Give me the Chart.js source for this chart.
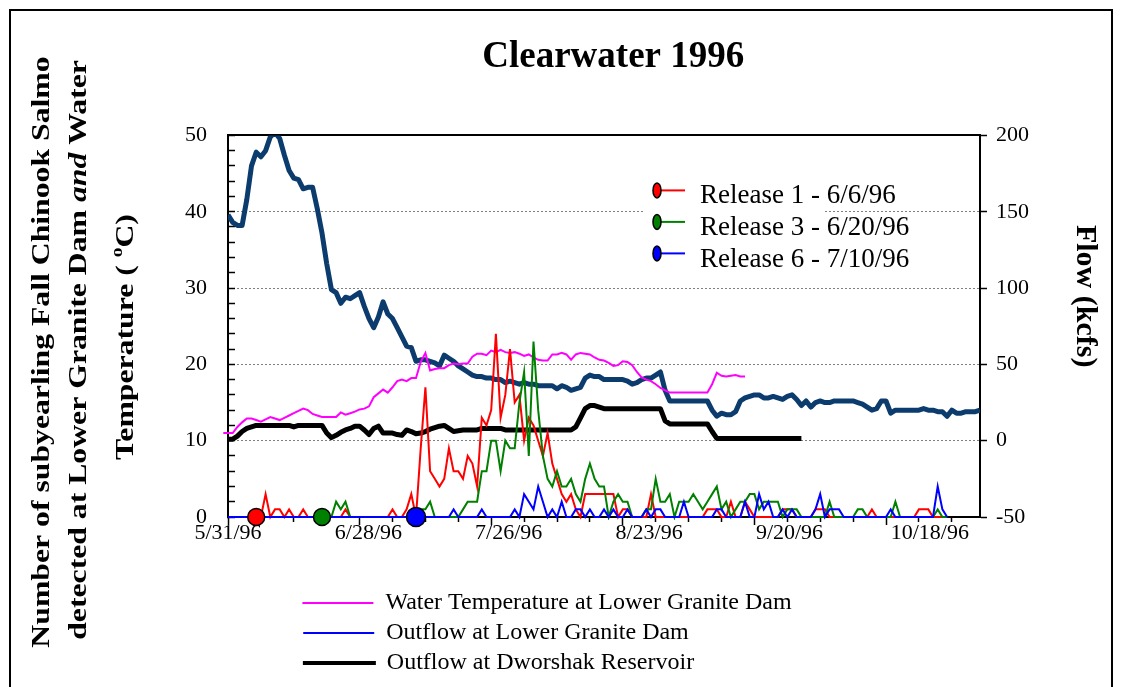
<!DOCTYPE html>
<html><head><meta charset="utf-8">
<script src="https://cdn.jsdelivr.net/npm/chart.js@4/dist/chart.umd.min.js"></script>
<style>html,body{margin:0;padding:0;background:#fff;}canvas{display:block;}</style>
</head><body>
<canvas id="c" width="1122" height="687"></canvas>
<script>
const FONT = '"Liberation Serif", "Times New Roman", serif';
const chartTitle = 'Clearwater 1996';
const xTickLabels = ['5/31/96', '6/28/96', '7/26/96', '8/23/96', '9/20/96', '10/18/96'];
const xTickLabelDays = [0, 29.87, 59.73, 89.6, 119.47, 149.33];
const xMajorTickDays = [0, 28, 56, 84, 112, 140];
const leftTitleLines = ['Number of subyearling Fall Chinook Salmo', 'detected at Lower Granite Dam ', 'and', ' Water', 'Temperature ( ', 'o', 'C)'];
const rightTitle = 'Flow (kcfs)';

const releaseNames = ['Release 1 - 6/6/96', 'Release 3 - 6/20/96', 'Release 6 - 7/10/96'];
const releaseDays = [6, 20, 40];
const releaseColors = ['#ff0000', '#008000', '#0000ff'];

// daily counts, day index 0 = 5/31/96
const release1 = [
  0,0,0,0,0,0,0,0,3,0, 1,1,0,1,0,0,1,0,0,0, 0,0,0,0,0,1,0,0,0,0, 0,0,0,0,0,1,0,0,1,3,
  0,9,17,6,5,4,5,9,6,6, 5,8,7,4,13,12,14,24,13,16, 22,15,16,10,13,12,10,8,11,7, 5,3,2,3,1,0,3,3,3,3,
  3,3,3,0,1,1,0,0,0,0, 3,0,0,0,0,0,0,0,0,0, 0,0,1,1,1,0,0,2,0,0, 2,1,0,0,0,0,0,0,1,1,
  1,0,0,0,0,1,1,1,0,0, 0,0,0,0,0,0,0,1,0,0, 0,0,0,0,0,0,0,1,1,1, 0,0,0,0
];
const release3 = [
  0,0,0,0,0,0,0,0,0,0, 0,0,0,0,0,0,0,0,0,0, 0,0,0,2,1,2,0,0,0,0, 0,0,0,0,0,0,0,0,0,0,
  1,1,1,2,0,0,0,0,0,0, 1,2,2,2,6,6,10,10,6,10, 9,9,15,19,8,23,14,8,5,4, 6,4,4,5,3,2,5,7,5,4,
  4,0,2,3,2,2,0,0,0,1, 1,5,2,2,3,0,2,2,2,3, 2,1,2,3,4,1,2,0,1,2, 2,3,3,1,2,2,2,2,0,1,
  1,1,0,0,0,0,0,0,2,0, 0,0,0,0,1,1,0,0,0,0, 0,0,2,0,0,0,0,0,0,0, 0,1,0,0
];
const release6 = [
  0,0,0,0,0,0,0,0,0,0, 0,0,0,0,0,0,0,0,0,0, 0,0,0,0,0,0,0,0,0,0, 0,0,0,0,0,0,0,0,0,0,
  0,0,0,0,0,0,0,0,1,0, 0,0,0,0,1,0,0,0,0,0, 0,1,0,3,2,1,4,2,0,1, 0,2,0,0,1,1,0,1,0,0,
  1,0,1,0,0,1,0,0,0,1, 0,1,1,0,0,0,0,2,0,0, 0,0,0,0,1,1,0,0,0,0, 2,0,0,3,1,2,0,0,1,0,
  1,0,0,0,0,1,3,0,1,1, 1,0,0,0,0,0,0,0,0,0, 0,1,0,0,0,0,0,0,0,0, 0,4,1,0
];

// water temperature (deg C), first value is day -2
const tempStartDay = -2;
const waterTemp = [
  12.0,11.0,11.0,11.0,11.8,12.4,12.9,12.9,12.7,12.5,
  12.8,13.1,12.9,12.7,13.0,13.3,13.6,13.9,14.2,14.0,
  13.5,13.3,13.1,13.1,13.1,13.1,13.7,13.4,13.6,13.8,
  14.1,14.2,14.5,15.7,16.2,16.7,16.3,17.0,17.8,18.0,
  17.8,18.2,18.2,20.3,21.5,19.2,19.4,19.5,19.5,19.9,
  20.1,20.0,20.1,20.1,21.0,21.4,21.4,21.2,21.8,21.6,
  21.9,21.6,21.5,21.6,21.4,21.1,21.3,20.9,20.6,20.5,
  20.5,21.3,21.3,21.5,21.3,20.6,21.3,21.5,21.4,21.3,
  20.9,20.6,20.5,20.2,19.8,19.9,20.4,20.3,19.9,19.0,
  18.3,18.0,17.8,17.4,16.9,16.6,16.3,16.3,16.3,16.3,
  16.3,16.3,16.3,16.3,16.3,17.4,18.9,18.5,18.4,18.5,
  18.6,18.4,18.4
];

// outflow at Lower Granite Dam (kcfs), day 0..160
const flowLowerGranite = [
  148,143,141,141,158,180,189,186,190,199, 202,198,187,177,172,171,165,166,166,152,
  136,116,99,97,90,94,93,95,97,88, 80,74,81,91,83,80,74,68,62,61,
  52,53,53,52,51,49,56,54,52,49, 47,45,43,42,42,41,41,40,40,38,
  39,38,37,38,37,37,36,36,36,36, 34,36,35,33,34,35,41,43,42,42,
  40,40,40,40,40,39,37,38,40,41, 41,43,45,33,26,26,26,26,26,26,
  26,26,26,20,16,18,17,17,19,26, 28,29,30,30,28,28,29,28,27,29,
  30,27,23,26,22,25,26,25,25,26, 26,26,26,26,25,24,22,20,21,26,
  26,18,20,20,20,20,20,20,21,20, 20,19,19,16,20,18,18,19,19,19,20
];

// outflow at Dworshak Reservoir (kcfs), day 0..122
const flowDworshak = [
  1,1,3,6,8,9,10,10,10,10, 10,10,10,10,9,10,10,10,10,10,
  10,5,2,3.5,5.5,7,8,9.5,9.5,7, 4,8,9.5,5,5,5,4,3.5,7,6,
  4.5,5,6,7.5,8.5,9.5,10,8,6,6.5, 7,7,7,7,8,8,8,8,8,7,
  7,7,7,7,7,7,7,7,7,7, 7,7,7,7,9,15,21,23,23,22,
  21,21,21,21,21,21,21,21,21,21, 21,21,21,13,11,11,11,11,11,11,
  11,11,11,6,1.5,1.5,1.5,1.5,1.5,1.5, 1.5,1.5,1.5,1.5,1.5,1.5,1.5,1.5,1.5,1.5, 1.5,1.5,1.5
];

const bottomLegendNames = ['Water Temperature at Lower Granite Dam', 'Outflow at Lower Granite Dam', 'Outflow at Dworshak Reservoir'];
const bottomLegendColors = ['#ff00ff', '#0000ff', '#000000'];
const bottomLegendStroke = [0, 0, 2];

const pts = (arr, start) => arr.map((v, k) => ({x: start + k, y: v}));

const decor = {
  id: 'decor',
  beforeDraw(chart) {
    const ctx = chart.ctx;
    ctx.save(); ctx.fillStyle = '#fff'; ctx.fillRect(0, 0, chart.width, chart.height); ctx.restore();
  },
  afterDatasetsDraw(chart) {
    const ctx = chart.ctx, a = chart.chartArea;
    ctx.save();
    ctx.fillStyle = '#fff';
    ctx.fillRect(a.left + 417, a.top + 41, 178, 96);
    releaseNames.forEach((name, k) => {
      const my = a.top + 55 + 31.5 * k;
      const mx = a.left + 429;
      ctx.strokeStyle = releaseColors[k]; ctx.lineWidth = 2;
      ctx.beginPath(); ctx.moveTo(mx, my); ctx.lineTo(a.left + 457, my); ctx.stroke();
      ctx.beginPath(); ctx.ellipse(mx, my, 4, 7.5, 0, 0, Math.PI * 2);
      ctx.fillStyle = releaseColors[k]; ctx.fill();
      ctx.strokeStyle = '#000'; ctx.lineWidth = 1.5; ctx.stroke();
      ctx.fillStyle = '#000';
      ctx.font = '27px ' + FONT;
      ctx.textBaseline = 'alphabetic'; ctx.textAlign = 'left';
      ctx.fillText(name, a.left + 472, a.top + 68 + 32 * k);
    });
    ctx.restore();
  },
  afterDraw(chart) {
    const ctx = chart.ctx;
    ctx.save();
    ctx.strokeStyle = '#000'; ctx.lineWidth = 2;
    ctx.strokeRect(10, 10, chart.width - 20, chart.height + 20);
    const B = 'bold 26px ' + FONT, BI = 'italic bold 26px ' + FONT, SUP = 'bold 16px ' + FONT;
    const line = (segs, cx, cy) => {
      ctx.save();
      ctx.translate(cx, cy); ctx.rotate(-Math.PI / 2); ctx.scale(1.22, 1);
      let total = 0;
      segs.forEach(s => { ctx.font = s.f; s.w = ctx.measureText(s.t).width; total += s.w; });
      let x = -total / 2;
      ctx.fillStyle = '#000'; ctx.textAlign = 'left'; ctx.textBaseline = 'alphabetic';
      segs.forEach(s => { ctx.font = s.f; ctx.fillText(s.t, x, s.dy || 0); x += s.w; });
      ctx.restore();
    };
    line([{t: leftTitleLines[0], f: B}], 49, 352);
    line([{t: leftTitleLines[1], f: B}, {t: leftTitleLines[2], f: BI}, {t: leftTitleLines[3], f: B}], 86, 350);
    line([{t: leftTitleLines[4], f: B}, {t: leftTitleLines[5], f: SUP, dy: -11}, {t: leftTitleLines[6], f: B}], 133, 337);
    ctx.restore();
  }
};

const tickFont = {size: 22, family: FONT};
const labelTickValues = xTickLabelDays.concat(xMajorTickDays.filter(v => !xTickLabelDays.includes(v))).sort((p, q) => p - q);

new Chart(document.getElementById('c'), {
  type: 'line',
  data: {
    datasets: [
      ...releaseDays.map((d, k) => ({
        label: releaseNames[k] + ' marker', data: [{x: d, y: 0}], showLine: false,
        pointRadius: k === 2 ? 9.5 : 8.5, pointBackgroundColor: releaseColors[k], pointBorderColor: '#000',
        pointBorderWidth: 1.5, clip: false, order: 0, yAxisID: 'y'
      })),
      {label: releaseNames[2], data: pts(release6, 0), borderColor: releaseColors[2], borderWidth: 2, pointRadius: 0, clip: 3, order: 1, yAxisID: 'y'},
      {label: releaseNames[1], data: pts(release3, 0), borderColor: releaseColors[1], borderWidth: 2, pointRadius: 0, clip: 3, order: 2, yAxisID: 'y'},
      {label: releaseNames[0], data: pts(release1, 0), borderColor: releaseColors[0], borderWidth: 2, pointRadius: 0, clip: 3, order: 3, yAxisID: 'y'},
      {label: bottomLegendNames[0], data: pts(waterTemp, tempStartDay), borderColor: '#ff00ff', borderWidth: 2, pointRadius: 0, clip: false, order: 4, yAxisID: 'y'},
      {label: bottomLegendNames[1], data: pts(flowLowerGranite, 0), borderColor: '#0c3c6e', borderWidth: 5, pointRadius: 0, order: 5, yAxisID: 'y2', borderJoinStyle: 'round'},
      {label: bottomLegendNames[2], data: pts(flowDworshak, 0), borderColor: '#000', borderWidth: 5, pointRadius: 0, order: 6, yAxisID: 'y2', borderJoinStyle: 'round'}
    ]
  },
  options: {
    responsive: false, animation: false, devicePixelRatio: 1, events: [],
    layout: {padding: {left: 0, right: 0, top: 0, bottom: 2}},
    elements: {line: {tension: 0}},
    plugins: {
      tooltip: {enabled: false},
      title: {
        display: true, text: '\u00a0\u00a0' + chartTitle, fullSize: false, color: '#000',
        font: {size: 37, weight: 'bold', family: FONT}, padding: {top: 35, bottom: 56}
      },
      legend: {
        display: true, position: 'bottom', fullSize: false, align: 'center',
        labels: {
          boxWidth: 71, boxHeight: 2, padding: 6, color: '#000', font: {size: 24, family: FONT},
          generateLabels(chart) {
            const ctx = chart.ctx;
            ctx.save();
            ctx.font = '24px ' + FONT;
            const items = bottomLegendNames.map((name, k) => {
              let t = name;
              while (ctx.measureText(t).width < 515) t += '\u00a0';
              return {text: t, fillStyle: bottomLegendColors[k], strokeStyle: bottomLegendColors[k],
                      lineWidth: bottomLegendStroke[k], hidden: false, datasetIndex: 3 + k};
            });
            ctx.restore();
            return items;
          }
        }
      }
    },
    scales: {
      x: {
        type: 'linear', position: 'bottom', min: 0, max: 160,
        afterBuildTicks(s) { const t = []; for (let v = 0; v <= 154; v += 7) t.push({value: v}); s.ticks = t; },
        ticks: {display: false, autoSkip: false},
        grid: {display: true, drawOnChartArea: false, drawTicks: true, tickLength: 5, tickColor: '#000', tickWidth: 1.5},
        border: {display: true, color: '#000', width: 2},
        afterFit(s) { s.height = 5; }
      },
      xl: {
        type: 'linear', position: 'bottom', min: 0, max: 160,
        afterBuildTicks(s) { s.ticks = labelTickValues.map(v => ({value: v})); },
        ticks: {autoSkip: false, maxRotation: 0, padding: -3, color: '#000', font: {size: 22, family: FONT, lineHeight: 1},
                callback: v => { const k = xTickLabelDays.indexOf(v); return k >= 0 ? xTickLabels[k] : ''; }},
        grid: {display: true, drawOnChartArea: false, drawTicks: true, tickLength: 3, tickWidth: 1.5,
               tickColor: c => (c.tick && xMajorTickDays.includes(c.tick.value)) ? '#000' : 'rgba(0,0,0,0)'},
        border: {display: false},
        afterFit(s) { s.height = 63; }
      },
      xt: {
        type: 'linear', position: 'top', min: 0, max: 160,
        ticks: {display: false},
        grid: {display: false, drawTicks: false},
        border: {display: true, color: '#000', width: 2},
        afterFit(s) { s.height = 0; }
      },
      y: {
        type: 'linear', position: 'left', min: 0, max: 50,
        ticks: {stepSize: 2, autoSkip: false, padding: 28, color: '#000', font: tickFont,
                callback: v => (v % 10 === 0 ? String(v) : '')},
        grid: {
          color: c => (c.tick && c.tick.value % 10 === 0 && c.tick.value > 0 && c.tick.value < 50) ? '#808080' : 'rgba(0,0,0,0)',
          lineWidth: 1, tickLength: -7, tickColor: '#000', tickWidth: 1.5, drawTicks: true
        },
        border: {display: true, color: '#000', width: 2, dash: [2, 2]},
        afterFit(s) { s.width = 228; }
      },
      y2: {
        type: 'linear', position: 'right', min: -50, max: 200,
        ticks: {stepSize: 50, padding: 9, color: '#000', font: tickFont},
        grid: {drawOnChartArea: false, tickLength: 7, tickColor: '#000', tickWidth: 1.5},
        border: {display: true, color: '#000', width: 2},
        title: {display: true, text: rightTitle + '\u00a0'.repeat(8), color: '#000',
                font: {size: 30, weight: 'bold', family: FONT}, padding: {top: 19, bottom: 0}},
        afterFit(s) { s.width = 142; }
      }
    }
  },
  plugins: [decor]
});
</script>
</body></html>
